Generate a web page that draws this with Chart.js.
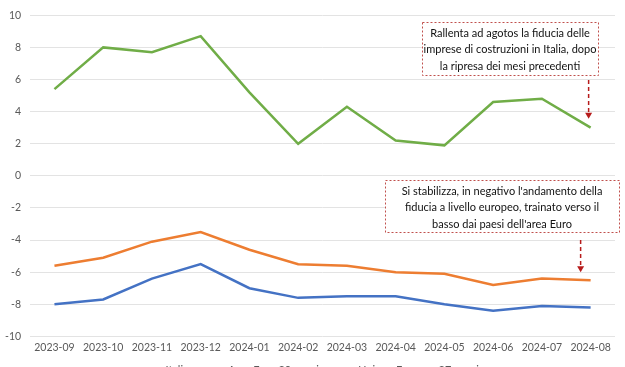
<!DOCTYPE html>
<html>
<head>
<meta charset="utf-8">
<script src="https://cdn.jsdelivr.net/npm/chart.js@4"></script>
<style>
  html, body { margin: 0; padding: 0; background: #fff; overflow: hidden; }
  #wrap { width: 625px; height: 386px; position: relative; }
</style>
</head>
<body>
<div id="wrap"><canvas id="myChart"></canvas></div>
<script>
const months = ["2023-09", "2023-10", "2023-11", "2023-12", "2024-01", "2024-02",
  "2024-03", "2024-04", "2024-05", "2024-06", "2024-07", "2024-08"];
const italia = [5.4, 8.0, 7.7, 8.7, 5.2, 2.0, 4.3, 2.2, 1.9, 4.6, 4.8, 3.0];
const areaEuro = [-8.0, -7.7, -6.4, -5.5, -7.0, -7.6, -7.5, -7.5, -8.0, -8.4, -8.1, -8.2];
const ue27 = [-5.6, -5.1, -4.1, -3.5, -4.6, -5.5, -5.6, -6.0, -6.1, -6.8, -6.4, -6.5];
const yTicks = [10, 8, 6, 4, 2, 0, -2, -4, -6, -8, -10];

const noteItalia = ["Rallenta ad agotos la fiducia delle",
  "imprese di costruzioni in Italia, dopo",
  "la ripresa dei mesi precedenti"];
const noteEuropa = ["Si stabilizza, in negativo l'andamento della",
  "fiducia a livello europeo, trainato verso il",
  "basso dai paesi dell'area Euro"];

const fontFamily = "Lato, 'Liberation Sans', sans-serif";

// draws the two callout boxes and the dashed arrows pointing at the last points
const notesPlugin = {
  id: "notes",
  afterDatasetsDraw(chart) {
    const ctx = chart.ctx;
    const x = chart.scales.x;
    const y = chart.scales.y;
    const last = months.length - 1;

    const drawBox = (cx, top, w, h, lines) => {
      ctx.save();
      ctx.fillStyle = "#fff";
      ctx.fillRect(cx - w / 2, top, w, h);
      ctx.strokeStyle = "#c0504d";
      ctx.lineWidth = 1;
      ctx.setLineDash([2, 2]);
      ctx.strokeRect(cx - w / 2 + 0.5, top + 0.5, w, h);
      ctx.setLineDash([]);
      ctx.fillStyle = "#111";
      ctx.font = "11px " + fontFamily;
      ctx.textAlign = "center";
      ctx.textBaseline = "middle";
      lines.forEach((line, i) => {
        ctx.fillText(line, cx, top + 11 + i * 16.5);
      });
      ctx.restore();
    };

    const drawArrow = (ax, y1, y2) => {
      ctx.save();
      ctx.strokeStyle = "#b71c1c";
      ctx.fillStyle = "#b71c1c";
      ctx.lineWidth = 1.5;
      ctx.setLineDash([4, 3]);
      ctx.beginPath();
      ctx.moveTo(ax, y1);
      ctx.lineTo(ax, y2 - 5);
      ctx.stroke();
      ctx.setLineDash([]);
      ctx.beginPath();
      ctx.moveTo(ax - 3.5, y2 - 6);
      ctx.lineTo(ax + 3.5, y2 - 6);
      ctx.lineTo(ax, y2);
      ctx.closePath();
      ctx.fill();
      ctx.restore();
    };

    drawBox(510, 22, 176, 53, noteItalia);
    drawBox(502, 180, 234, 52, noteEuropa);

    const ax = x.getPixelForValue(last) - 2;
    drawArrow(ax, 80, y.getPixelForValue(italia[last]) - 9);
    drawArrow(ax - 8, 240, y.getPixelForValue(ue27[last]) - 8);
  }
};

const ctx = document.getElementById("myChart").getContext("2d");
const chart = new Chart(ctx, {
  type: "line",
  data: {
    labels: months,
    datasets: [
      {
        label: "Italia",
        data: italia,
        borderColor: "#70ad47",
        backgroundColor: "#70ad47",
        borderWidth: 2.5,
        pointRadius: 0,
        tension: 0,
      },
      {
        label: "Area Euro 20 paesi",
        data: areaEuro,
        borderColor: "#4472c4",
        backgroundColor: "#4472c4",
        borderWidth: 2.5,
        pointRadius: 0,
        tension: 0,
      },
      {
        label: "Unione Europea 27 paesi",
        data: ue27,
        borderColor: "#ed7d31",
        backgroundColor: "#ed7d31",
        borderWidth: 2.5,
        pointRadius: 0,
        tension: 0,
      },
    ],
  },
  options: {
    responsive: true,
    maintainAspectRatio: false,
    animation: false,
    layout: { padding: { top: 4, right: 10, left: -4, bottom: 0 } },
    plugins: {
      legend: {
        position: "bottom",
        labels: {
          usePointStyle: true,
          pointStyle: "line",
          pointStyleWidth: 28,
          color: "#595959",
          font: { family: fontFamily, size: 11 },
          padding: 6,
        },
      },
      tooltip: { enabled: false },
    },
    scales: {
      x: {
        offset: true,
        grid: { display: false, drawTicks: false },
        border: { display: false },
        ticks: {
          color: "#595959",
          font: { family: fontFamily, size: 10.5 },
          maxRotation: 0,
          autoSkip: false,
          padding: 5,
        },
      },
      y: {
        min: -10,
        max: 10,
        afterBuildTicks: (scale) => {
          scale.ticks = yTicks.map((v) => ({ value: v }));
        },
        grid: { color: "#e3e3e3", drawTicks: false },
        border: { display: false },
        ticks: {
          color: "#595959",
          font: { family: fontFamily, size: 10.5 },
          padding: 9,
        },
      },
    },
  },
  plugins: [notesPlugin],
});
</script>
</body>
</html>
